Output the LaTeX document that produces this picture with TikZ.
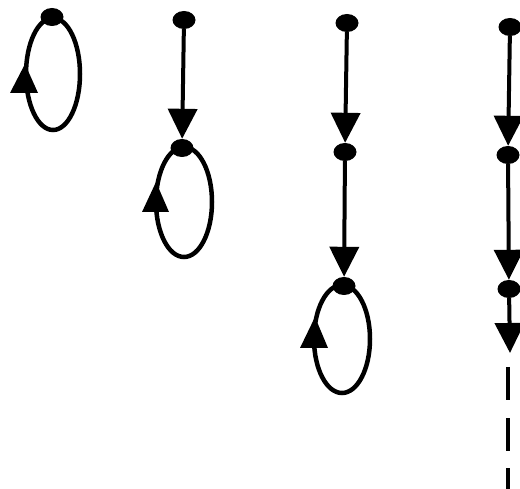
\documentclass[tikz,border=0pt]{standalone}
\usetikzlibrary{arrows.meta,shapes.geometric}
\tikzset{
  dotnode/.style={ellipse,fill=black,draw=none,minimum width=23pt,minimum height=18pt,inner sep=0pt},
  flowline/.style={line width=4pt,-{Triangle[length=30pt,width=29pt]}},
  loopline/.style={line width=4.5pt},
  loophead/.style={fill=black},
  dashseg/.style={line width=4pt}
}
\begin{document}
\begin{tikzpicture}[x=1pt,y=-1pt]
\clip (0,0) rectangle (520,489);
\fill[white] (0,0) rectangle (520,489);
% diagram 1
\draw[loopline] (53,74) ellipse [x radius=27, y radius=56];
\fill[loophead] (25,64) -- (10,93) -- (38,93) -- cycle;
\node[dotnode] (a1) at (52,17) {};
% diagram 2
\node[dotnode] (b1) at (184,20) {};
\draw[loopline] (184,202) ellipse [x radius=28, y radius=55];
\fill[loophead] (156,182) -- (142,212) -- (169,212) -- cycle;
\node[dotnode] (b2) at (182,148) {};
\draw[flowline] (b1) -- (b2);
% diagram 3
\node[dotnode] (c1) at (347,23) {};
\node[dotnode] (c2) at (345,152) {};
\draw[loopline] (342,339) ellipse [x radius=28, y radius=54];
\fill[loophead] (315,317) -- (300,348) -- (328,348) -- cycle;
\node[dotnode] (c3) at (344,286) {};
\draw[flowline] (c1) -- (c2);
\draw[flowline] (c2) -- (c3);
% diagram 4
\node[dotnode] (d1) at (510,27) {};
\node[dotnode] (d2) at (508,155) {};
\node[dotnode] (d3) at (509,289) {};
\coordinate (d4) at (510,353);
\coordinate (e1) at (508,367);
\coordinate (e2) at (508,400);
\coordinate (e3) at (508,418);
\coordinate (e4) at (508,451);
\coordinate (e5) at (508,468);
\coordinate (e6) at (508,495);
\draw[flowline] (d1) -- (d2);
\draw[flowline] (d2) -- (d3);
\draw[flowline] (d3) -- (d4);
\draw[dashseg] (e1) -- (e2) (e3) -- (e4) (e5) -- (e6);
\end{tikzpicture}
\end{document}
